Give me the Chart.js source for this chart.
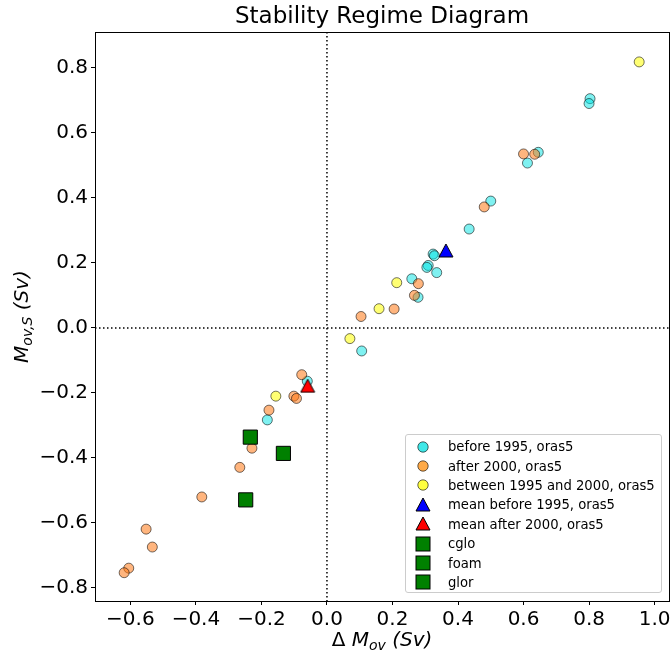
<!DOCTYPE html>
<html>
<head>
<meta charset="utf-8">
<script src="https://cdn.jsdelivr.net/npm/chart.js@4.4.1/dist/chart.umd.min.js"></script>
<style>
  html, body { margin: 0; padding: 0; background: #fff; }
  #wrap { position: relative; width: 672px; height: 653px; }
  #legend {
    position: absolute; box-sizing: border-box;
    border: 1px solid #cccccc; border-radius: 3px;
    background: rgba(255,255,255,0.8);
    font-family: "DejaVu Sans", sans-serif; font-size: 13.2px; color: #000;
    padding-top: 2px;
  }
  .row { display: flex; align-items: center; height: 19.4px; }
  .mk { width: 34px; display: flex; justify-content: center; align-items: center; }
  .lb { margin-left: 8px; white-space: nowrap; }
</style>
</head>
<body>
<div id="wrap">
  <canvas id="c" width="672" height="653"></canvas>
  <div id="legend"></div>
</div>
<script>
// ---------------- data ----------------
const chartTitle = 'Stability Regime Diagram';
const seriesNames = [
  'before 1995, oras5',
  'after 2000, oras5',
  'between 1995 and 2000, oras5',
  'mean before 1995, oras5',
  'mean after 2000, oras5',
  'cglo',
  'foam',
  'glor'
];
// before 1995 (x = Delta M_ov, y = M_ov,S)
const before1995X = [0.803, 0.800, 0.645, 0.612, 0.500, 0.434, 0.324, 0.328, 0.309, 0.305, 0.335, 0.259, 0.278, 0.106, -0.060, -0.182];
const before1995Y = [0.705, 0.690, 0.540, 0.507, 0.390, 0.304, 0.227, 0.222, 0.192, 0.186, 0.170, 0.151, 0.094, -0.071, -0.164, -0.283];
// after 2000
const after2000X = [0.600, 0.634, 0.480, 0.279, 0.267, 0.205, 0.104, -0.077, -0.101, -0.093, -0.177, -0.229, -0.266, -0.382, -0.552, -0.533, -0.605, -0.619];
const after2000Y = [0.535, 0.534, 0.372, 0.136, 0.100, 0.058, 0.035, -0.144, -0.210, -0.217, -0.253, -0.370, -0.429, -0.520, -0.619, -0.674, -0.739, -0.753];
// between 1995 and 2000
const betweenX = [0.953, 0.213, 0.159, 0.070, -0.156];
const betweenY = [0.818, 0.139, 0.059, -0.033, -0.210];
// means
const meanBeforeX = [0.363];
const meanBeforeY = [0.238];
const meanAfterX = [-0.059];
const meanAfterY = [-0.178];
// other reanalyses
const cgloX = [-0.234];
const cgloY = [-0.336];
const foamX = [-0.133];
const foamY = [-0.386];
const glorX = [-0.248];
const glorY = [-0.529];

const xTickValues = [-0.6, -0.4, -0.2, 0.0, 0.2, 0.4, 0.6, 0.8, 1.0];
const yTickValues = [-0.8, -0.6, -0.4, -0.2, 0.0, 0.2, 0.4, 0.6, 0.8];
const xLimits = [-0.708, 1.044];
const yLimits = [-0.840, 0.910];

// axis titles as (text, italic, subscript) parts
const xTitleParts = [['\u0394 ', false, false], ['M', true, false], ['ov', true, true], [' (Sv)', true, false]];
const yTitleParts = [['M', true, false], ['ov,S', true, true], [' (Sv)', true, false]];

// ---------------- helpers ----------------
const FONT = '"DejaVu Sans", sans-serif';
const pts = (xs, ys) => xs.map((x, i) => ({ x: x, y: ys[i] }));
const fmtTick = v => (v < -1e-9 ? '\u2212' : '') + Math.abs(v).toFixed(1);

function triangleCanvas(fill, w, h) {
  const c = document.createElement('canvas');
  c.width = w + 2; c.height = h + 2;
  const g = c.getContext('2d');
  g.beginPath();
  g.moveTo(1 + w / 2, 1);
  g.lineTo(1 + w, 1 + h);
  g.lineTo(1, 1 + h);
  g.closePath();
  g.fillStyle = fill; g.fill();
  g.lineWidth = 1; g.strokeStyle = '#000'; g.stroke();
  return c;
}

const circleEdge = 'rgba(0,0,0,0.55)';
const datasets = [
  { label: seriesNames[0], data: pts(before1995X, before1995Y), pointStyle: 'circle', pointRadius: 5,
    backgroundColor: 'rgba(0,228,228,0.5)', borderColor: circleEdge, borderWidth: 1, order: 8 },
  { label: seriesNames[1], data: pts(after2000X, after2000Y), pointStyle: 'circle', pointRadius: 5,
    backgroundColor: 'rgba(255,120,20,0.55)', borderColor: circleEdge, borderWidth: 1, order: 7 },
  { label: seriesNames[2], data: pts(betweenX, betweenY), pointStyle: 'circle', pointRadius: 5,
    backgroundColor: 'rgba(255,255,0,0.55)', borderColor: circleEdge, borderWidth: 1, order: 6 },
  { label: seriesNames[3], data: pts(meanBeforeX, meanBeforeY), pointStyle: triangleCanvas('#0000ff', 14, 13),
    pointRadius: 8, backgroundColor: '#0000ff', borderColor: '#000', borderWidth: 1, order: 5 },
  { label: seriesNames[4], data: pts(meanAfterX, meanAfterY), pointStyle: triangleCanvas('#ff0000', 14, 13),
    pointRadius: 8, backgroundColor: '#ff0000', borderColor: '#000', borderWidth: 1, order: 4 },
  { label: seriesNames[5], data: pts(cgloX, cgloY), pointStyle: 'rect', pointRadius: 10,
    backgroundColor: '#008000', borderColor: '#000', borderWidth: 1, order: 3 },
  { label: seriesNames[6], data: pts(foamX, foamY), pointStyle: 'rect', pointRadius: 10,
    backgroundColor: '#008000', borderColor: '#000', borderWidth: 1, order: 2 },
  { label: seriesNames[7], data: pts(glorX, glorY), pointStyle: 'rect', pointRadius: 10,
    backgroundColor: '#008000', borderColor: '#000', borderWidth: 1, order: 1 }
];

function drawParts(ctx, parts, cx, cy, rotate, size) {
  ctx.save();
  ctx.translate(cx, cy);
  if (rotate) ctx.rotate(-Math.PI / 2);
  ctx.fillStyle = '#000';
  ctx.textBaseline = 'alphabetic';
  ctx.textAlign = 'left';
  const fontFor = p => (p[1] ? 'italic ' : '') + (p[2] ? size * 0.7 : size) + 'px ' + FONT;
  let total = 0;
  parts.forEach(p => { ctx.font = fontFor(p); total += ctx.measureText(p[0]).width; });
  let x = -total / 2;
  const base = size * 0.36;
  parts.forEach(p => {
    ctx.font = fontFor(p);
    ctx.fillText(p[0], x, p[2] ? base + size * 0.2 : base);
    x += ctx.measureText(p[0]).width;
  });
  ctx.restore();
}

const decor = {
  id: 'decor',
  beforeDatasetsDraw(chart) {
    const { ctx, chartArea: a, scales } = chart;
    const x0 = scales.x.getPixelForValue(0);
    const y0 = scales.y.getPixelForValue(0);
    ctx.save();
    ctx.strokeStyle = '#000';
    ctx.lineWidth = 1.5;
    ctx.setLineDash([1.5, 2.5]);
    ctx.beginPath();
    ctx.moveTo(x0, a.top); ctx.lineTo(x0, a.bottom);
    ctx.moveTo(a.left, y0); ctx.lineTo(a.right, y0);
    ctx.stroke();
    ctx.restore();
  },
  afterDraw(chart) {
    const { ctx, chartArea: a } = chart;
    ctx.save();
    ctx.strokeStyle = '#000';
    ctx.lineWidth = 1;
    ctx.strokeRect(Math.round(a.left) + 0.5, Math.round(a.top) + 0.5,
                   Math.round(a.right - a.left), Math.round(a.bottom - a.top));
    ctx.restore();
    drawParts(ctx, xTitleParts, (a.left + a.right) / 2, 639, false, 20);
    drawParts(ctx, yTitleParts, 21, (a.top + a.bottom) / 2, true, 20);
    const lg = document.getElementById('legend');
    lg.style.left = (a.right - 264) + 'px';
    lg.style.top = (a.bottom - 167) + 'px';
    lg.style.width = '257px';
    lg.style.height = '159px';
  }
};

const axisCommon = {
  type: 'linear',
  grid: { display: true, drawOnChartArea: false, drawTicks: true, tickLength: 4, tickColor: '#000', tickWidth: 1 },
  border: { display: true, color: '#000', width: 1 },
};

new Chart(document.getElementById('c'), {
  type: 'scatter',
  data: { datasets },
  options: {
    responsive: false,
    devicePixelRatio: 1,
    animation: false,
    layout: { autoPadding: false, padding: { left: 0, right: 3, top: 0, bottom: 0 } },
    plugins: {
      legend: { display: false },
      tooltip: { enabled: false },
      title: {
        display: true, text: chartTitle, color: '#000', fullSize: false,
        font: { family: FONT, size: 23, weight: 'normal' },
        padding: { top: 3, bottom: 1.4 }
      }
    },
    scales: {
      x: Object.assign({}, axisCommon, {
        min: xLimits[0], max: xLimits[1],
        afterBuildTicks: s => { s.ticks = xTickValues.map(v => ({ value: v })); },
        afterFit: s => { s.height = 52; s.paddingLeft = 0; s.paddingRight = 0; },
        ticks: { callback: v => fmtTick(v), color: '#000', font: { family: FONT, size: 20 }, padding: 3, maxRotation: 0, autoSkip: false }
      }),
      y: Object.assign({}, axisCommon, {
        min: yLimits[0], max: yLimits[1],
        afterBuildTicks: s => { s.ticks = yTickValues.map(v => ({ value: v })); },
        afterFit: s => { s.width = 95; s.paddingTop = 0; s.paddingBottom = 0; },
        ticks: { callback: v => fmtTick(v), color: '#000', font: { family: FONT, size: 20 }, padding: 3, autoSkip: false }
      })
    }
  },
  plugins: [decor]
});

// HTML legend
(function buildLegend() {
  const lg = document.getElementById('legend');
  const markers = [
    '<svg width="14" height="14"><circle cx="7" cy="7" r="5.2" fill="rgb(64,232,232)" stroke="rgba(0,0,0,0.6)" stroke-width="1"/></svg>',
    '<svg width="14" height="14"><circle cx="7" cy="7" r="5.2" fill="rgb(255,170,72)" stroke="rgba(0,0,0,0.6)" stroke-width="1"/></svg>',
    '<svg width="14" height="14"><circle cx="7" cy="7" r="5.2" fill="rgb(255,255,64)" stroke="rgba(0,0,0,0.6)" stroke-width="1"/></svg>',
    '<svg width="16" height="16"><polygon points="8,1 15,14 1,14" fill="#0000ff" stroke="#000" stroke-width="1"/></svg>',
    '<svg width="16" height="16"><polygon points="8,1 15,14 1,14" fill="#ff0000" stroke="#000" stroke-width="1"/></svg>',
    '<svg width="16" height="16"><rect x="1" y="1" width="14" height="14" fill="#008000" stroke="#000" stroke-width="1"/></svg>',
    '<svg width="16" height="16"><rect x="1" y="1" width="14" height="14" fill="#008000" stroke="#000" stroke-width="1"/></svg>',
    '<svg width="16" height="16"><rect x="1" y="1" width="14" height="14" fill="#008000" stroke="#000" stroke-width="1"/></svg>'
  ];
  lg.innerHTML = seriesNames.map((n, i) =>
    '<div class="row"><div class="mk">' + markers[i] + '</div><div class="lb">' + n + '</div></div>').join('');
})();
</script>
</body>
</html>
